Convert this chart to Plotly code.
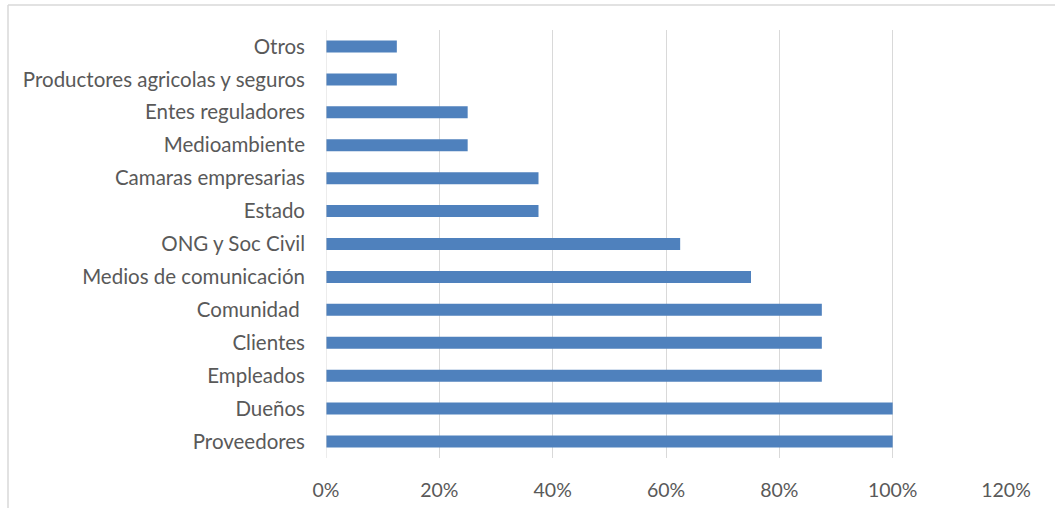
import plotly.graph_objects as go

# Stakeholder groups (bottom to top) and share of respondents
categories = [
    "Proveedores", "Dueños", "Empleados", "Clientes", "Comunidad ",
    "Medios de comunicación", "ONG y Soc Civil", "Estado",
    "Camaras empresarias", "Medioambiente", "Entes reguladores",
    "Productores agricolas y seguros", "Otros",
]
shares = [1.0, 1.0, 0.875, 0.875, 0.875, 0.75, 0.625, 0.375, 0.375, 0.25, 0.25, 0.125, 0.125]
x_ticks = [0, 0.2, 0.4, 0.6, 0.8, 1.0, 1.2]
x_tick_labels = ["0%", "20%", "40%", "60%", "80%", "100%", "120%"]

W, H = 1055, 508
L, R, T, B = 326, 49, 30, 50
pw, ph = W - L - R, H - T - B

fig = go.Figure(
    go.Bar(
        x=shares,
        y=categories,
        orientation="h",
        marker=dict(color="#4F81BD", line=dict(width=0)),
        hoverinfo="x+y",
    )
)

family = "Lato, Carlito, Calibri, sans-serif"
yfont = dict(family=family, size=20.5, color="#595959")
xfont = dict(family=family, size=19.5, color="#595959")

fig.update_layout(
    width=W,
    height=H,
    margin=dict(l=L, r=R, t=T, b=B, pad=0, autoexpand=False),
    paper_bgcolor="white",
    plot_bgcolor="white",
    bargap=0.635,
    showlegend=False,
    font=yfont,
    xaxis=dict(
        range=[0, 1.2],
        tickvals=x_ticks,
        ticktext=x_tick_labels,
        showgrid=True,
        gridcolor="#D9D9D9",
        gridwidth=1,
        zeroline=False,
        showline=False,
        ticks="",
        ticklabelstandoff=18,
        tickfont=xfont,
        automargin=False,
        fixedrange=True,
    ),
    yaxis=dict(
        categoryorder="array",
        categoryarray=categories,
        showgrid=False,
        zeroline=False,
        showline=False,
        ticks="",
        ticklabelstandoff=20,
        tickfont=yfont,
        automargin=False,
        fixedrange=True,
    ),
    shapes=[
        # outer chart frame (top and left edges)
        dict(type="line", xref="paper", yref="paper",
             x0=(8 - L) / pw, x1=(W + 5 - L) / pw,
             y0=1 + (T - 5) / ph, y1=1 + (T - 5) / ph,
             line=dict(color="#D9D9D9", width=1.5)),
        dict(type="line", xref="paper", yref="paper",
             x0=(8 - L) / pw, x1=(8 - L) / pw,
             y0=1 + (T - 5) / ph, y1=-(B + 5) / ph,
             line=dict(color="#D9D9D9", width=1.5)),
        # category axis line at 0%
        dict(type="line", xref="x", yref="paper",
             x0=0, x1=0, y0=0, y1=1,
             line=dict(color="#D9D9D9", width=1)),
    ],
)

fig.write_html("out.html")
